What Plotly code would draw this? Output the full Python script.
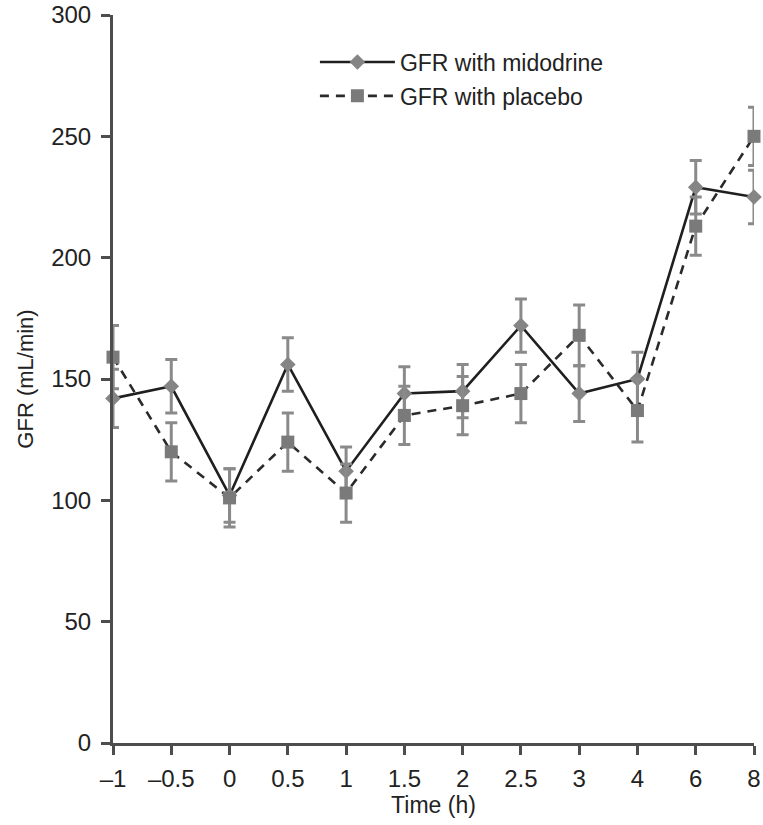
import plotly.graph_objects as go

time_labels = ["\u20131", "\u20130.5", "0", "0.5", "1", "1.5", "2", "2.5", "3", "4", "6", "8"]

midodrine = [142, 147, 102, 156, 112, 144, 145, 172, 144, 150, 229, 225]
midodrine_err = [12, 11, 11, 11, 10, 11, 11, 11, 11.5, 11, 11, 11]

placebo = [159, 120, 101, 124, 103, 135, 139, 144, 168, 137, 213, 250]
placebo_err = [13, 12, 12, 12, 12, 12, 12, 12, 12.5, 13, 12, 12]

FONT = "Liberation Sans, Arial, Helvetica, sans-serif"

fig = go.Figure()

fig.add_trace(go.Scatter(
    x=time_labels, y=midodrine, name="GFR with midodrine",
    mode="lines+markers", legendgroup="m",
    line=dict(color="#1f1f1f", width=2.6),
    marker=dict(symbol="diamond", size=12, color="#858585"),
    error_y=dict(type="data", array=midodrine_err, visible=True,
                 color="#8a8a8a", thickness=3, width=6),
    cliponaxis=False,
))

fig.add_trace(go.Scatter(
    x=time_labels, y=placebo, name="GFR with placebo",
    mode="lines+markers", legendgroup="p",
    line=dict(color="#2a2a2a", width=2.6, dash="9px,7px"),
    marker=dict(symbol="square", size=13, color="#7a7a7a"),
    error_y=dict(type="data", array=placebo_err, visible=True,
                 color="#8a8a8a", thickness=3, width=6),
    cliponaxis=False,
))

fig.update_layout(
    width=763, height=825,
    margin=dict(l=113, r=9, t=15, b=82),
    paper_bgcolor="white", plot_bgcolor="white",
    font=dict(family=FONT, size=23, color="#222222"),
    showlegend=True,
    legend=dict(
        x=0.315, y=0.965, xanchor="left", yanchor="top",
        bgcolor="rgba(0,0,0,0)", borderwidth=0,
        font=dict(size=23, color="#222222"),
        tracegroupgap=1, traceorder="grouped", itemwidth=75,
    ),
    xaxis=dict(
        type="category", categoryorder="array", categoryarray=time_labels,
        range=[0, 11], automargin=False,
        showline=True, linecolor="#4d4d4d", linewidth=3,
        ticks="outside", ticklen=9, tickwidth=3, tickcolor="#4d4d4d",
        showgrid=False, zeroline=False,
        tickfont=dict(size=24), ticklabelstandoff=3,
        title=dict(text="Time (h)", font=dict(size=23), standoff=2),
    ),
    yaxis=dict(
        range=[0, 300], tickvals=[0, 50, 100, 150, 200, 250, 300],
        showline=True, linecolor="#4d4d4d", linewidth=3,
        ticks="outside", ticklen=9, tickwidth=3, tickcolor="#4d4d4d",
        showgrid=False, zeroline=False, automargin=False,
        tickfont=dict(size=24), ticklabelstandoff=5,
        title=dict(text="GFR (mL/min)", font=dict(size=22), standoff=12),
    ),
)

fig.write_html("out.html")
